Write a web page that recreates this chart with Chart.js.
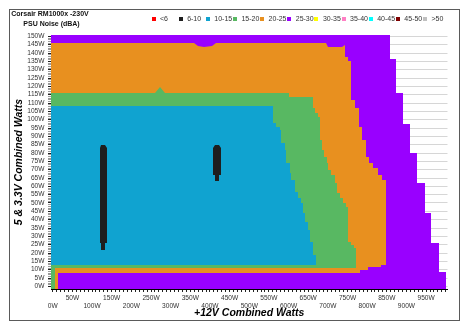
<!DOCTYPE html>
<html><head><meta charset="utf-8">
<script src="https://cdn.jsdelivr.net/npm/chart.js@4/dist/chart.umd.min.js"></script>
<style>html,body{margin:0;padding:0;background:#fff;overflow:hidden}</style>
</head><body>
<canvas id="c" width="471" height="328"></canvas>
<script>
// ---------- text ----------
const chartTitle = 'Corsair RM1000x -230V';
const chartSubtitle = 'PSU Noise (dBA)';
const xTitle = '+12V Combined Watts';
const yTitle = '5 & 3.3V Combined Watts';
const noiseBands = ['<6','6-10','10-15','15-20','20-25','25-30','30-35','35-40','40-45','45-50','>50'];
const xTickLabels = ['0W','50W','100W','150W','200W','250W','300W','350W','400W','450W','500W','550W','600W','650W','700W','750W','800W','850W','900W','950W'];
const yTickLabels = ['0W','5W','10W','15W','20W','25W','30W','35W','40W','45W','50W','55W','60W','65W','70W','75W','80W','85W','90W','95W','100W','105W','110W','115W','120W','125W','130W','135W','140W','145W','150W'];

// ---------- data (watts: x = +12V load, y = 5&3.3V load) ----------
// right-edge staircases of each noise region: [upper y, lower y, x]
const edge25to30 = [[150.8,136.2,857],[136.2,115.8,874],[115.8,97.2,891],[97.2,79.8,910],[79.8,61.8,928],[61.8,44.2,946],[44.2,25.8,963],[25.8,8.8,982],[8.8,-1.6,1000]];
const edge20to25 = [[144.8,137.6,743],[137.6,135.2,751],[135.2,111.8,760],[111.8,107.2,769],[107.2,95.6,779],[95.6,87.8,787],[87.8,77.6,797],[77.6,74,805],[74,71,815],[71,66.8,828],[66.8,63.8,838],[63.8,12.8,847],[12.8,11.4,836],[11.4,9.8,802],[9.8,8.2,783]];
const edge15to20 = [[113.8,107,662],[107,104,667],[104,101.6,674],[101.6,87.8,680],[87.8,81.8,684],[81.8,77.6,690],[77.6,74,697],[74,69.8,700],[69.8,66.8,709],[66.8,62,719],[62,56,724],[56,53,730],[53,50,738],[50,47.6,747],[47.6,26.6,751],[26.6,24.8,758],[24.8,23,766],[23,11.3,772]];
const edge10to15 = [[108.4,97.8,560],[97.8,95.8,569],[95.8,93.8,577],[93.8,85.8,581],[85.8,81.8,590],[81.8,74,594],[74,67.8,603],[67.8,63.8,607],[63.8,56.8,616],[56.8,52.8,624],[52.8,49.8,632],[49.8,43.8,637],[43.8,38.8,643],[38.8,33.8,649],[33.8,26.8,654],[26.8,18.8,662],[18.8,12.8,671]];
// bottom / top outlines of each region: [x, y]
const bottom25to30 = [[-4.5,-1.6]];
const top25to30 = [[-4.5,150.8]];
const bottom20to25 = [[-4.5,-1.6],[13.5,-1.6],[13.5,8.2]];
const top20to25 = [[736,143.4],[700,143.6],[695,145.8],[415,145.8],[405,144.3],[386,143.8],[370,144.3],[360,145.8],[-4.5,145.8]];
const bottom15to20 = [[-4.5,-1.6],[6.4,-1.6],[6.4,11.3]];
const top15to20 = [[600,113.8],[600,116.1],[285,116.1],[273,119.4],[261,116.1],[-4.5,116.1]];
const bottom10to15 = [[-4.5,12.8]];
const top10to15 = [[-4.5,108.4]];
// 6-10 dBA islands
const spotA = [[123.5,84.8],[133.7,84.8],[138.8,83.2],[138.8,25.8],[133.7,25.8],[133.7,21.8],[123.5,21.8],[123.5,25.8],[119.4,25.8],[119.4,83.2]];
const spotB = [[412,84.8],[422.2,84.8],[427.3,83.2],[427.3,66.8],[422.2,66.8],[422.2,63.4],[412,63.4],[412,66.8],[407.7,66.8],[407.7,83.2]];

// ---------- styles ----------
const bandColors = ['#ff0000','#1e1e1e','#10a3d0','#58b862','#e8901f','#9900ff','#ffff00','#ff7fc4','#00ffff','#7f0000','#c0c0c0'];
const FONT = '"Liberation Sans", Arial, sans-serif';
Chart.defaults.font.family = FONT;

function region(bottom, steps, top) {
  const pts = bottom.slice();
  for (let i = steps.length - 1; i >= 0; i--) {
    const [yu, yl, x] = steps[i];
    pts.push([x, yl]); pts.push([x, yu]);
  }
  return pts.concat(top);
}
function polyDataset(points, color) {
  return { data: points.map(([x, y]) => ({x, y})), backgroundColor: color, borderWidth: 0,
           pointRadius: 0, pointHoverRadius: 0, fill: 'shape', tension: 0 };
}
const datasets = [
  polyDataset(spotA, bandColors[1]),
  polyDataset(spotB, bandColors[1]),
  polyDataset(region(bottom10to15, edge10to15, top10to15), bandColors[2]),
  polyDataset(region(bottom15to20, edge15to20, top15to20), bandColors[3]),
  polyDataset(region(bottom20to25, edge20to25, top20to25), bandColors[4]),
  polyDataset(region(bottom25to30, edge25to30, top25to30), bandColors[5])
];

// snap the scale-computed vertices to whole pixels so region edges stay crisp
const crisp = {
  id: 'crisp',
  beforeDatasetsDraw(chart) {
    chart.data.datasets.forEach((d, i) => {
      chart.getDatasetMeta(i).data.forEach(p => { p.x = Math.round(p.x); p.y = Math.round(p.y); });
    });
  }
};

const decor = {
  id: 'decor',
  beforeDraw(chart) {
    const c = chart.ctx; c.save(); c.fillStyle = '#fff'; c.fillRect(0, 0, chart.width, chart.height); c.restore();
  },
  afterDraw(chart) {
    const c = chart.ctx; c.save();
    c.strokeStyle = '#5a5a5a'; c.lineWidth = 1; c.strokeRect(9.5, 9.5, 450, 311);
    c.fillStyle = '#111'; c.font = 'bold 7px ' + FONT; c.textAlign = 'center'; c.textBaseline = 'middle';
    c.fillText(chartTitle, 50, 14.5);
    c.fillText(chartSubtitle, 51.5, 24);
    c.textAlign = 'left'; c.font = '7px ' + FONT;
    noiseBands.forEach((b, i) => {
      const x = 151.5 + i * 27.15;
      c.fillStyle = bandColors[i]; c.fillRect(Math.round(x), 17, 4, 4);
      c.fillStyle = '#333'; c.fillText(b, x + 8.5, 19);
    });
    c.restore();
  }
};

new Chart(document.getElementById('c'), {
  type: 'line',
  data: { datasets },
  options: {
    responsive: false, animation: false, devicePixelRatio: 1, events: [],
    layout: { padding: { left: 12, right: 23.5, top: 35, bottom: 0 } },
    plugins: { legend: { display: false }, tooltip: { enabled: false }, filler: { propagate: false } },
    scales: {
      x: {
        type: 'linear', min: -4.5, max: 1004.5, bounds: 'data',
        afterBuildTicks: s => { const t = []; for (let v = 0; v <= 1000; v += 10) t.push({ value: v }); s.ticks = t; },
        afterFit: s => { s.height = 39; },
        ticks: {
          autoSkip: false, maxRotation: 0, minRotation: 0, padding: 3, color: '#333',
          font: { size: 6.6, lineHeight: 1.1 },
          callback: v => {
            if (v % 50 !== 0 || v >= 1000) return '';
            const lab = xTickLabels[v / 50];
            return v % 100 === 0 ? ['', lab] : lab;
          }
        },
        grid: { drawOnChartArea: false, drawTicks: true, tickLength: 3, tickColor: '#222' },
        border: { display: true, color: '#000', width: 1 },
        title: { display: true, text: xTitle, color: '#000', font: { size: 10.5, weight: 'bold', style: 'italic' }, padding: { top: 0, bottom: 8.5 } }
      },
      y: {
        type: 'linear', min: -1.6, max: 150.8, bounds: 'data',
        afterBuildTicks: s => { const t = []; for (let v = 0; v <= 150; v += 1) t.push({ value: v }); s.ticks = t; },
        afterFit: s => { s.width = 39; },
        ticks: {
          autoSkip: false, padding: 3.5, color: '#333', font: { size: 6.6 },
          callback: v => (v % 5 === 0 ? yTickLabels[v / 5] : '')
        },
        grid: {
          drawTicks: true, tickLength: 3,
          color: c => (c.tick && c.tick.value % 5 === 0 ? '#d6d6d6' : 'rgba(0,0,0,0)'),
          tickColor: c => (c.tick && c.tick.value % 5 === 0 ? '#222' : '#9a9a9a')
        },
        border: { display: true, color: '#000', width: 1 },
        title: { display: true, text: yTitle, color: '#000', font: { size: 10.5, weight: 'bold', style: 'italic' }, padding: { top: 1, bottom: 0 } }
      }
    }
  },
  plugins: [crisp, decor]
});
</script>
</body></html>
